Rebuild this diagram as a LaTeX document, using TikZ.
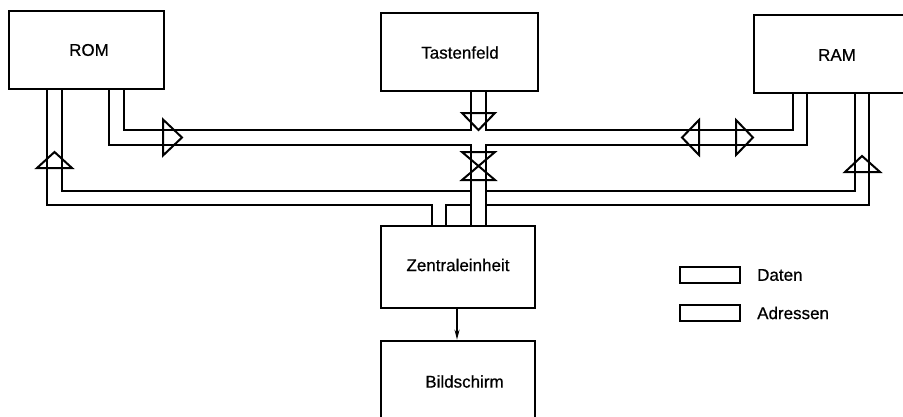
\documentclass[tikz,border=0pt]{standalone}
\usepackage{fontspec}
\setmainfont{Liberation Sans}
\newfontfamily\lblfont{Liberation Sans}[FakeBold=0.6]
\usetikzlibrary{arrows.meta}
\begin{document}
\begin{tikzpicture}[x=1pt,y=-1pt,
  box/.style={draw, line width=2.6pt, fill=white, inner sep=0pt},
  pipe/.style={line width=2pt, line join=miter},
  tri/.style={line width=2pt, line join=miter},
  lbl/.style={font=\lblfont\fontsize{17}{20}\selectfont, inner sep=0pt},
  legbox/.style={draw, line width=2pt, minimum width=60pt, minimum height=16pt, inner sep=0pt}]
\useasboundingbox (0,0) rectangle (903,416);
\clip (0,0) rectangle (903,416);
\fill[white] (0,0) rectangle (903,416);

% boxes
\node[box, minimum width=155pt, minimum height=78pt] (rom) at (86.5,50) {};
\node[box, minimum width=157pt, minimum height=78pt] (tast) at (459.5,52) {};
\node[box, minimum width=176pt, minimum height=78pt] (ram) at (842,54) {};
\node[box, minimum width=154pt, minimum height=82pt] (cpu) at (458,267) {};
\node[box, minimum width=154pt, minimum height=99pt] (bild) at (458,390.5) {};

% labels
\node[lbl] (romt) at (89,50) {ROM};
\node[lbl] (tastt) at (460,52.5) {Tastenfeld};
\node[lbl] (ramt) at (837,55) {RAM};
\node[lbl] (cput) at (458,265) {Zentraleinheit};
\node[lbl] (bildt) at (464.5,381.5) {Bildschirm};

% data bus
\draw[pipe] (124,0 |- rom.south) -- (124,130) -- (471,130) -- (471,0 |- tast.south);
\draw[pipe] (486,0 |- tast.south) -- (486,130) -- (793,130) -- (793,0 |- ram.south);
\draw[pipe] (109,0 |- rom.south) -- (109,145) -- (471,145) -- (471,0 |- cpu.north);
\draw[pipe] (807,0 |- ram.south) -- (807,145) -- (486,145) -- (486,0 |- cpu.north);

% address bus
\draw[pipe] (62,0 |- rom.south) -- (62,191) -- (471,191);
\draw[pipe] (486,191) -- (855,191) -- (855,0 |- ram.south);
\draw[pipe] (47,0 |- rom.south) -- (47,205) -- (432,205) -- (432,0 |- cpu.north);
\draw[pipe] (446,0 |- cpu.north) -- (446,205) -- (471,205);
\draw[pipe] (486,205) -- (869,205) -- (869,0 |- ram.south);

% direction marks
\draw[tri] (163,119.5) -- (182,137.5) -- (163,155.5) -- cycle;
\draw[tri] (462,113) -- (495,113) -- (478.5,130) -- cycle;
\draw[tri] (462,152) -- (495,152) -- (462,180) -- (495,180) -- cycle;
\draw[tri] (37,168) -- (72,168) -- (54.5,152) -- cycle;
\draw[tri] (845,172) -- (880,172) -- (862,156) -- cycle;
\draw[tri] (699,120) -- (699,155) -- (682,137.5) -- cycle;
\draw[tri] (736,120) -- (736,155) -- (753,137.5) -- cycle;

% CPU to screen
\draw[line width=1.2pt, -{Stealth[length=10pt,width=5pt]}] (457,0 |- cpu.south) -- (457,0 |- bild.north);

% legend
\node[legbox] (legd) at (710,275) {};
\node[legbox] (lega) at (710,313) {};
\node[lbl, anchor=west] (legdt) at (757,275) {Daten};
\node[lbl, anchor=west] (legat) at (757,313) {Adressen};
\end{tikzpicture}
\end{document}
